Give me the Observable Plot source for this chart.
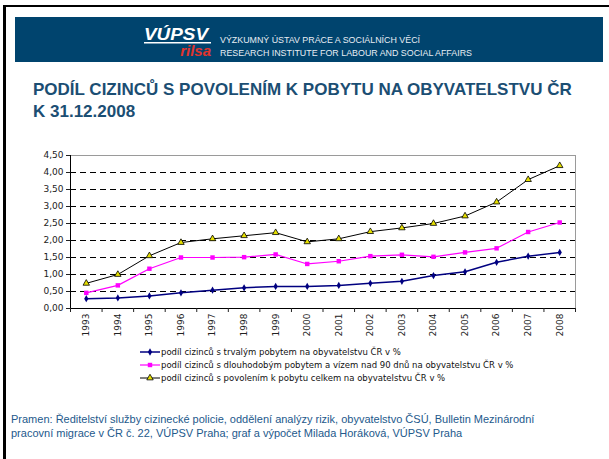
<!DOCTYPE html>
<html>
<head>
<meta charset="utf-8">
<script src="https://cdn.jsdelivr.net/npm/d3@7"></script>
<script src="https://cdn.jsdelivr.net/npm/@observablehq/plot@0.6"></script>
<style>
  html, body { margin: 0; padding: 0; background: #fff; }
  #page { position: relative; width: 609px; height: 459px; overflow: hidden; background: #fff; }
  #frameTop { position: absolute; left: 3px; top: 5px; width: 606px; height: 2px; background: #000; }
  #frameLeft { position: absolute; left: 3px; top: 5px; width: 3px; height: 454px; background: #000; }
  #banner { position: absolute; left: 15px; top: 17px; }
  #title { position: absolute; left: 33px; top: 79px; font-family: "Liberation Sans", Arial, sans-serif; font-weight: bold; font-size: 17px; line-height: 22px; color: #1b4e73; white-space: nowrap; }
  #chart { position: absolute; left: 0; top: 145px; }
  #legend { position: absolute; left: 140px; top: 345px; font-family: "DejaVu Sans", Verdana, sans-serif; font-size: 8.5px; color: #111; }
  #legend .row { height: 13px; display: flex; align-items: center; white-space: nowrap; }
  #legend svg { margin-right: 1px; }
  #caption { position: absolute; left: 11px; top: 412px; font-family: "Liberation Sans", Arial, sans-serif; font-size: 11px; line-height: 14px; color: #23598c; white-space: nowrap; }
</style>
</head>
<body>
<div id="page">
  <div id="frameTop"></div>
  <div id="frameLeft"></div>
  <svg id="banner" width="588" height="45">
    <rect x="0" y="0" width="588" height="45" fill="#00446e"></rect>
    <text x="129" y="23" fill="#fff" font-family="Liberation Sans, Arial, sans-serif" font-weight="bold" font-style="italic" font-size="17" textLength="64" lengthAdjust="spacingAndGlyphs">VÚPSV</text>
    <rect x="129" y="25" width="67" height="1.5" fill="#fff"></rect>
    <text x="196" y="39" fill="#e0342c" text-anchor="end" font-family="Liberation Sans Narrow, Liberation Sans, Arial, sans-serif" font-weight="bold" font-style="italic" font-size="15">rilsa</text>
    <text x="205" y="25.5" fill="#e8eef4" font-family="Liberation Sans Narrow, Liberation Sans, Arial, sans-serif" font-size="8.5" textLength="200" lengthAdjust="spacingAndGlyphs">VÝZKUMNÝ ÚSTAV PRÁCE A SOCIÁLNÍCH VĚCÍ</text>
    <text x="205" y="39" fill="#e8eef4" font-family="Liberation Sans Narrow, Liberation Sans, Arial, sans-serif" font-size="8.5" textLength="252" lengthAdjust="spacingAndGlyphs">RESEARCH INSTITUTE FOR LABOUR AND SOCIAL AFFAIRS</text>
  </svg>
  <div id="title">PODÍL CIZINCŮ S POVOLENÍM K POBYTU NA OBYVATELSTVU ČR<br>K 31.12.2008</div>
  <div id="chart"></div>
  <div id="legend"></div>
  <div id="caption">Pramen: Ředitelství služby cizinecké policie, oddělení analýzy rizik, obyvatelstvo ČSÚ, Bulletin Mezinárodní<br>pracovní migrace v ČR č. 22, VÚPSV Praha; graf a výpočet Milada Horáková, VÚPSV Praha</div>
</div>
<script>
// ---- data ----
const years = [1993, 1994, 1995, 1996, 1997, 1998, 1999, 2000, 2001, 2002, 2003, 2004, 2005, 2006, 2007, 2008];
const trvaly = [0.29, 0.31, 0.37, 0.46, 0.54, 0.61, 0.65, 0.65, 0.68, 0.74, 0.80, 0.97, 1.08, 1.36, 1.54, 1.65];
const dlouhodoby = [0.46, 0.68, 1.17, 1.50, 1.50, 1.51, 1.59, 1.31, 1.39, 1.54, 1.58, 1.52, 1.65, 1.77, 2.25, 2.53];
const celkem = [0.74, 1.00, 1.55, 1.94, 2.05, 2.14, 2.23, 1.96, 2.05, 2.26, 2.37, 2.50, 2.72, 3.13, 3.79, 4.20];
const yTicks = [0, 0.5, 1, 1.5, 2, 2.5, 3, 3.5, 4, 4.5];
const seriesNames = [
  "podíl cizinců s trvalým pobytem na obyvatelstvu ČR v %",
  "podíl cizinců s dlouhodobým pobytem a vízem nad 90 dnů na obyvatelstvu ČR v %",
  "podíl cizinců s povolením k pobytu celkem na obyvatelstvu ČR v %"
];
const seriesValues = [trvaly, dlouhodoby, celkem];
const seriesStyle = [
  {stroke: "#000080", width: 1.5, symbol: "diamond", fill: "#000080", dotStroke: "none", r: 2.2},
  {stroke: "#ff00ff", width: 1.2, symbol: "square", fill: "#ff00ff", dotStroke: "none", r: 2.5},
  {stroke: "#000000", width: 1, symbol: "triangle", fill: "#e6e000", dotStroke: "#000", r: 2.4}
];

const rows = [];
seriesValues.forEach((vals, i) => vals.forEach((v, j) => rows.push({series: i, year: years[j], value: v})));
const xDomain = [years[0] - 0.5, years[years.length - 1] + 0.5];
const boundaries = [xDomain[0], ...years.map(y => y + 0.5)];
const fmt = d => d.toFixed(2).replace(".", ",");

const marks = [
  Plot.ruleY(yTicks.slice(1, -1), {stroke: "#000", strokeWidth: 1, strokeDasharray: "6,4"}),
  Plot.ruleY([yTicks[yTicks.length - 1]], {stroke: "#9a9a9a", strokeWidth: 1}),
  Plot.ruleX([xDomain[1]], {stroke: "#9a9a9a", strokeWidth: 1}),
  Plot.ruleX([xDomain[0]], {stroke: "#000", strokeWidth: 1}),
  Plot.ruleY([0], {stroke: "#000", strokeWidth: 1}),
  Plot.axisY({ticks: yTicks, tickFormat: fmt, tickSize: 4, tickPadding: 3, label: null}),
  Plot.axisX({ticks: boundaries, tickSize: 4, tickFormat: () => "", label: null}),
  Plot.axisX({ticks: years, tickSize: 0, tickPadding: 5, tickRotate: -90, tickFormat: d => String(d), label: null})
];
seriesStyle.forEach((s, i) => {
  const data = rows.filter(d => d.series === i);
  marks.push(Plot.line(data, {x: "year", y: "value", stroke: s.stroke, strokeWidth: s.width}));
  marks.push(Plot.dot(data, {x: "year", y: "value", symbol: () => s.symbol, fill: s.fill, stroke: s.dotStroke, strokeWidth: 0.8, r: s.r}));
});

const chart = Plot.plot({
  width: 609,
  height: 200,
  marginLeft: 70,
  marginRight: 34,
  marginTop: 10,
  marginBottom: 37,
  x: {type: "linear", domain: xDomain},
  y: {domain: [yTicks[0], yTicks[yTicks.length - 1]]},
  symbol: {type: "identity"},
  style: {fontFamily: "DejaVu Sans, Verdana, sans-serif", fontSize: "9px", color: "#222", background: "transparent", overflow: "visible"},
  marks
});
document.getElementById("chart").appendChild(chart);

// ---- legend ----
const legend = d3.select("#legend");
seriesNames.forEach((name, i) => {
  const s = seriesStyle[i];
  const row = legend.append("div").attr("class", "row");
  const svg = row.append("svg").attr("width", 20).attr("height", 10);
  svg.append("line").attr("x1", 0).attr("x2", 20).attr("y1", 5).attr("y2", 5).attr("stroke", s.stroke).attr("stroke-width", s.width);
  const sym = {diamond: d3.symbolDiamond, square: d3.symbolSquare, triangle: d3.symbolTriangle}[s.symbol];
  svg.append("path").attr("transform", "translate(10,5)")
    .attr("d", d3.symbol(sym, Math.PI * s.r * s.r)())
    .attr("fill", s.fill).attr("stroke", s.dotStroke).attr("stroke-width", 0.8);
  row.append("span").text(name);
});
</script>
</body>
</html>
